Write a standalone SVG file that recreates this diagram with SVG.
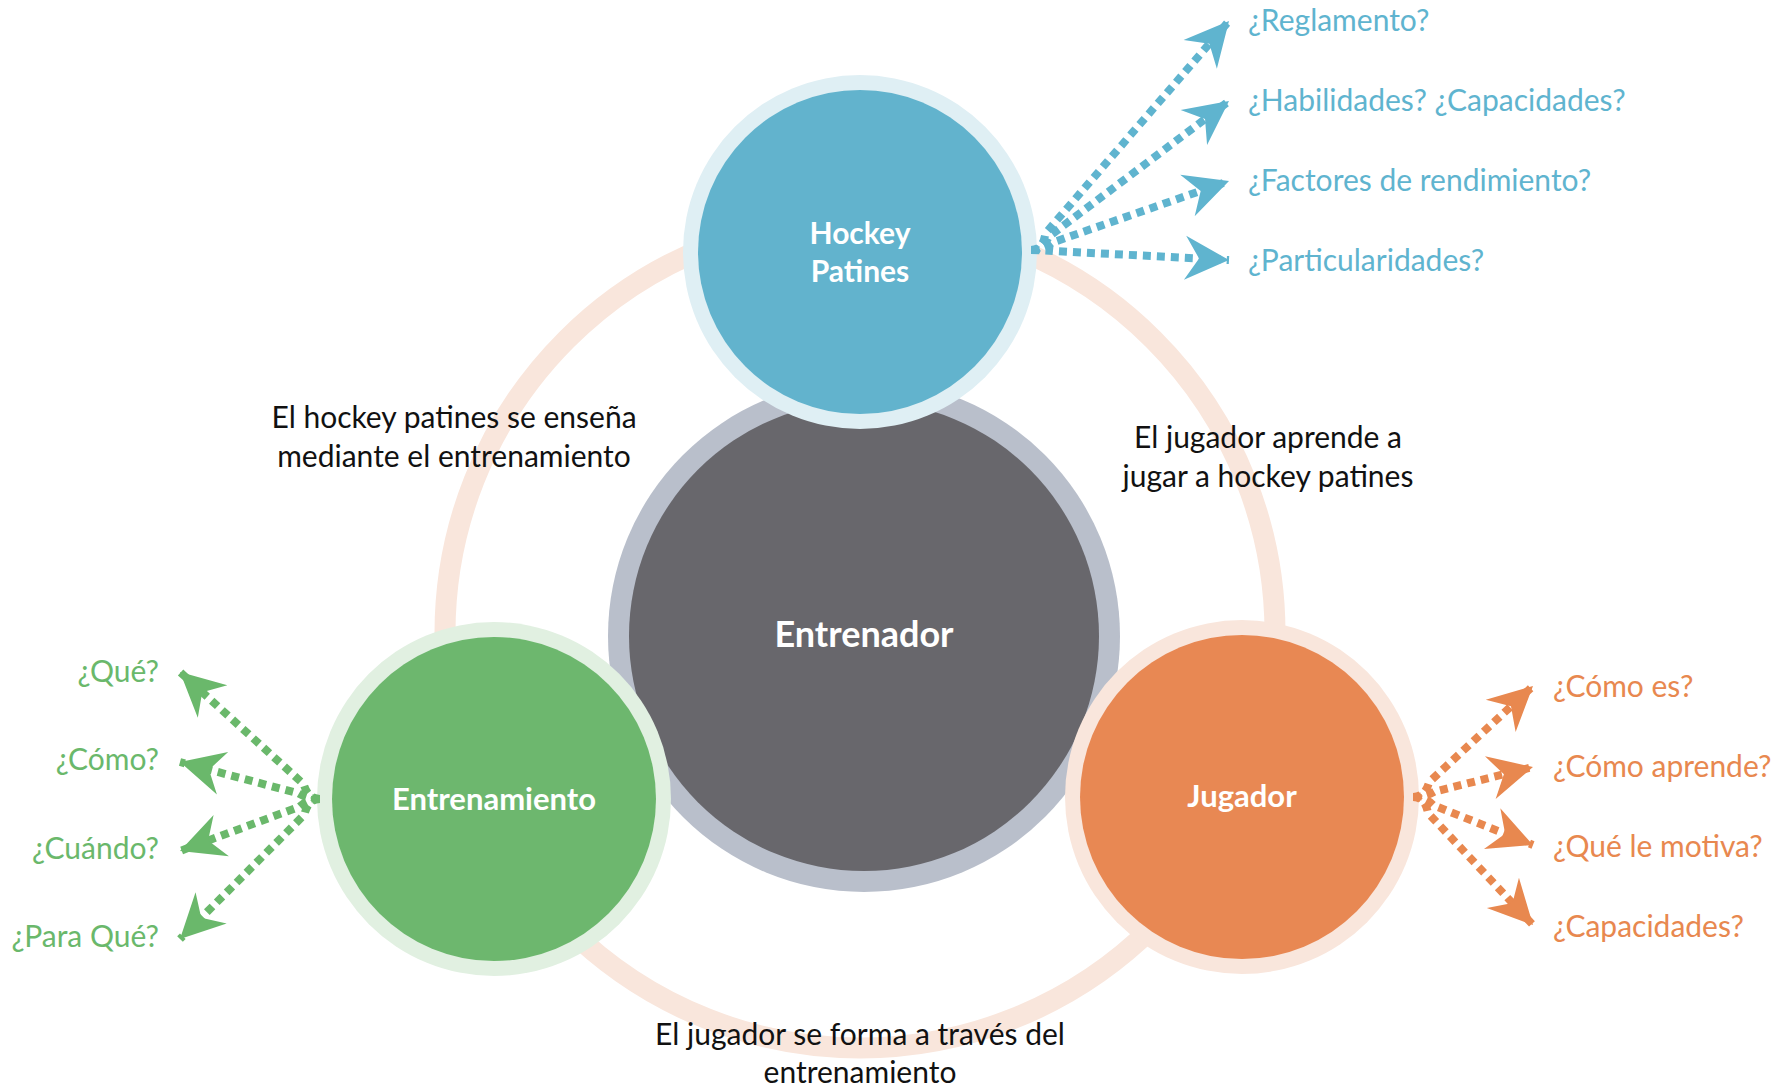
<svg xmlns="http://www.w3.org/2000/svg" width="1790" height="1088" viewBox="0 0 1790 1088">
<style>
.lbl{font-family:Lato,"Open Sans","Liberation Sans",sans-serif;font-size:30px;fill:#111;text-anchor:middle}
.node{font-family:Lato,"Open Sans","Liberation Sans",sans-serif;font-weight:bold;font-size:31px;fill:#fff;text-anchor:middle}
.q{font-family:Lato,"Open Sans","Liberation Sans",sans-serif;font-size:30px}
.qb{fill:#5fb4cf}.qg{fill:#6ab86b;text-anchor:end}.qo{fill:#e8884f}
.ab{fill:none;stroke:#5fb4cf;stroke-width:8;stroke-dasharray:8 6}
.ag{fill:none;stroke:#6ab86b;stroke-width:8;stroke-dasharray:8 6}
.ao{fill:none;stroke:#e8884f;stroke-width:8;stroke-dasharray:8 6}
</style>
<defs>
<marker id="mb" viewBox="-46 -24 48 48" markerWidth="48" markerHeight="48" refX="0" refY="0" orient="auto" markerUnits="userSpaceOnUse"><path d="M0,0 L-44,-22 L-30,0 L-44,22 Z" fill="#5fb4cf"/></marker>
<marker id="mg" viewBox="-46 -24 48 48" markerWidth="48" markerHeight="48" refX="0" refY="0" orient="auto" markerUnits="userSpaceOnUse"><path d="M0,0 L-44,-22 L-30,0 L-44,22 Z" fill="#6ab86b"/></marker>
<marker id="mo" viewBox="-46 -24 48 48" markerWidth="48" markerHeight="48" refX="0" refY="0" orient="auto" markerUnits="userSpaceOnUse"><path d="M0,0 L-44,-22 L-30,0 L-44,22 Z" fill="#e8884f"/></marker>
</defs>
<rect width="1790" height="1088" fill="#fff"/>
<g id="cycle-ring">
<circle cx="860" cy="633" r="415" fill="none" stroke="#f9e6dc" stroke-width="21"/>
</g>
<g id="node-entrenador">
<circle cx="864" cy="636" r="256" fill="#b9bfcb"/>
<circle cx="864" cy="636" r="235" fill="#68676c"/>
<text class="node" x="864" y="647" style="font-size:36px">Entrenador</text>
</g>
<g id="node-hockey">
<circle cx="860" cy="252" r="177" fill="#dfeff4"/>
<circle cx="860" cy="252" r="162" fill="#62b3cd"/>
<text class="node" x="860" y="244" style="font-size:30px">Hockey</text>
<text class="node" x="860" y="282" style="font-size:30px">Patines</text>
</g>
<g id="node-entrenamiento">
<circle cx="494" cy="799" r="177" fill="#e1f0e1"/>
<circle cx="494" cy="799" r="162" fill="#6db76e"/>
<text class="node" x="494" y="810">Entrenamiento</text>
</g>
<g id="node-jugador">
<circle cx="1242" cy="797" r="177" fill="#f9e6dc"/>
<circle cx="1242" cy="797" r="162" fill="#e88853"/>
<text class="node" x="1242" y="807">Jugador</text>
</g>
<g id="relation-labels">
<text class="lbl" x="454" y="428">El hockey patines se enseña</text>
<text class="lbl" x="454" y="467">mediante el entrenamiento</text>
<text class="lbl" x="1268" y="448">El jugador aprende a</text>
<text class="lbl" x="1268" y="487">jugar a hockey patines</text>
<text class="lbl" x="860" y="1045">El jugador se forma a través del</text>
<text class="lbl" x="860" y="1083">entrenamiento</text>
</g>
<g id="connectors">
<path class="ab" d="M1031,250 Q1043,250 1045.4,233.4 L1229,21" marker-end="url(#mb)"/>
<path class="ab" d="M1031,250 Q1043,250 1048.6,236.8 L1229,101" marker-end="url(#mb)"/>
<path class="ab" d="M1031,250 Q1043,250 1051.8,242.8 L1229,181" marker-end="url(#mb)"/>
<path class="ab" d="M1031,250 Q1043,250 1053,251 L1229,260" marker-end="url(#mb)"/>
<path class="ag" d="M320,799 Q308,799 303.7,784.2 L180,672" marker-end="url(#mg)"/>
<path class="ag" d="M320,799 Q308,799 298.7,793.4 L180,762" marker-end="url(#mg)"/>
<path class="ag" d="M320,799 Q308,799 299.4,806.7 L180,851" marker-end="url(#mg)"/>
<path class="ag" d="M320,799 Q308,799 304.4,814.6 L180,939" marker-end="url(#mg)"/>
<path class="ao" d="M1413,797 Q1425,797 1429.1,782.1 L1533,686" marker-end="url(#mo)"/>
<path class="ao" d="M1413,797 Q1425,797 1434.3,791.7 L1533,767" marker-end="url(#mo)"/>
<path class="ao" d="M1413,797 Q1425,797 1433.4,805.2 L1533,845" marker-end="url(#mo)"/>
<path class="ao" d="M1413,797 Q1425,797 1428,813 L1533,925" marker-end="url(#mo)"/>
</g>
<g id="questions">
<text class="q qb" x="1248" y="31">¿Reglamento?</text>
<text class="q qb" x="1248" y="111">¿Habilidades? ¿Capacidades?</text>
<text class="q qb" x="1248" y="191">¿Factores de rendimiento?</text>
<text class="q qb" x="1248" y="271">¿Particularidades?</text>
<text class="q qg" x="159" y="682">¿Qué?</text>
<text class="q qg" x="159" y="770">¿Cómo?</text>
<text class="q qg" x="159" y="859">¿Cuándo?</text>
<text class="q qg" x="159" y="947">¿Para Qué?</text>
<text class="q qo" x="1553" y="697">¿Cómo es?</text>
<text class="q qo" x="1553" y="777">¿Cómo aprende?</text>
<text class="q qo" x="1553" y="857">¿Qué le motiva?</text>
<text class="q qo" x="1553" y="937">¿Capacidades?</text>
</g>
</svg>
